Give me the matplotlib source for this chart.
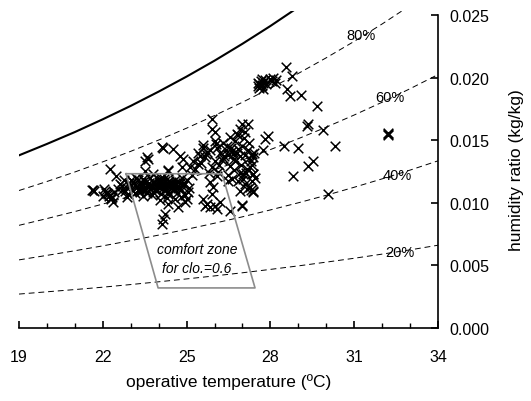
import numpy as np
import matplotlib
matplotlib.use("Agg")
import matplotlib.pyplot as plt

plt.rcParams['font.family'] = ['Liberation Sans', 'DejaVu Sans']

# operative temperature grid (deg C) for the relative humidity lines
rh_temp = [19, 20, 21, 22, 23, 24, 25, 26, 27, 28, 29, 30, 31, 32, 33, 34]

# humidity ratio (g/kg)
rh100 = [13.79, 14.70, 15.65, 16.67, 17.74, 18.88, 20.08, 21.35, 22.70, 24.12, 25.62]
rh80 = [10.98, 11.70, 12.46, 13.27, 14.11, 15.01, 15.96, 16.97, 18.03, 19.15,
        20.33, 21.58, 22.89, 24.28, 25.75]
rh60 = [8.20, 8.74, 9.30, 9.90, 10.53, 11.19, 11.90, 12.64, 13.42, 14.25,
        15.12, 16.04, 17.01, 18.03, 19.11, 20.24]
rh40 = [5.44, 5.80, 6.17, 6.56, 6.98, 7.42, 7.88, 8.37, 8.88, 9.43,
        10.00, 10.60, 11.24, 11.91, 12.61, 13.35]
rh20 = [2.71, 2.89, 3.07, 3.26, 3.47, 3.69, 3.92, 4.16, 4.41, 4.68,
        4.96, 5.26, 5.57, 5.90, 6.24, 6.61]

rh_labels = ["80%", "60%", "40%", "20%"]
rh_label_t = [31.24, 32.28, 32.53, 32.64]
rh_label_w = [23.4, 18.45, 12.2, 6.07]

# comfort zone corners (deg C, g/kg)
zone_t = [22.83, 26.27, 27.45, 23.98, 22.83]
zone_w = [12.32, 12.32, 3.20, 3.20, 12.32]

# measured points: operative temperature (deg C), humidity ratio (g/kg)
obs_t = [
    21.65, 21.70, 21.62, 22.08, 22.19, 22.33, 22.37, 22.01, 22.15, 22.26, 22.30,
    22.26, 22.47, 22.69, 22.80, 22.90, 22.87, 23.08, 23.22, 23.33, 23.44,
    23.58, 23.51, 23.62, 23.51, 23.80, 24.33, 24.12, 24.12, 24.16,
    22.62, 22.75, 22.85, 22.95, 23.05, 23.15, 23.25, 23.30, 23.40, 23.45,
    23.55, 23.60, 23.65, 23.70, 23.75, 23.80, 23.85, 23.90, 23.95, 24.00,
    24.05, 24.10, 24.15, 24.20, 24.25, 24.30, 24.35, 24.40, 24.45, 24.50,
    24.55, 24.60, 24.65, 24.70, 24.75, 24.80, 23.50, 23.70, 24.00, 24.20,
    24.40, 23.90, 24.60, 23.35, 24.10, 24.59, 24.30, 24.80, 24.05,
    22.12, 22.22, 22.40, 22.05, 22.28, 22.55, 22.70, 22.98, 23.12, 23.28,
    23.38, 23.48, 23.58, 23.68, 23.78, 23.88, 23.98, 24.08, 24.18, 24.28,
    24.38, 24.48, 24.58, 24.68, 24.78, 23.20, 23.42, 23.62, 23.82, 24.02,
    24.22, 24.42, 24.62, 23.00, 24.90, 23.15, 23.75, 24.35,
    25.91, 25.91, 26.02, 26.02, 26.55, 26.73, 24.16, 24.51, 24.76, 24.87,
    25.59, 25.73, 25.48, 25.66,
    26.10, 26.20, 26.30, 26.40, 26.50, 26.60, 26.70, 26.80, 26.90, 26.25,
    26.45, 26.65, 26.85,
    25.23, 25.41, 25.30, 25.12, 24.84, 24.33, 25.91, 26.12, 26.09, 25.84,
    26.48, 26.63, 26.84,
    24.90, 25.00, 25.05, 24.95, 25.10, 24.85, 24.33, 24.94, 25.02,
    25.59, 25.73, 25.91, 25.95, 25.84, 26.55, 24.23, 24.69,
    25.66, 26.02, 26.20, 26.09, 26.98, 26.98, 27.38, 27.16, 27.02, 27.38,
    26.98, 27.20, 26.91, 26.81, 27.09, 26.84, 26.63,
    25.50, 25.70, 25.80, 26.00, 26.15, 26.35, 26.55, 26.75, 25.60, 25.85,
    26.05, 26.30, 26.50, 26.70, 26.90, 25.40, 25.20,
    27.27, 27.38, 27.34, 27.27, 27.38, 27.02, 27.09, 26.91,
    27.00, 27.10, 27.20, 27.30, 26.95, 27.15, 27.25, 27.40, 27.35, 27.45,
    27.34, 27.38, 27.05, 27.22, 27.12, 27.30,
    27.55, 27.60, 27.65, 27.70, 27.75, 27.80, 27.60, 27.85, 27.70, 27.65,
    27.75, 27.55, 28.00, 28.10, 28.20, 28.15, 28.05,
    28.56, 28.77, 28.60, 28.70, 29.10,
    29.67, 29.31, 29.35, 29.88, 27.92, 27.81, 27.74, 28.49, 28.99, 30.31,
    32.21, 32.21, 32.20, 29.53, 29.35, 28.81, 30.06,
]
obs_w = [
    11.02, 10.95, 11.06, 10.94, 10.70, 10.46, 10.06, 10.54, 10.80, 10.62, 10.30,
    12.70, 12.14, 11.34, 10.94, 10.70, 10.46, 11.66, 11.26, 10.86, 10.54,
    13.66, 13.34, 13.50, 12.54, 12.30, 12.62, 14.46, 8.31, 8.70,
    11.50, 11.80, 11.20, 11.60, 11.00, 11.40, 11.80, 11.10, 11.50, 11.90,
    11.20, 10.80, 11.60, 12.00, 11.30, 10.90, 11.70, 11.40, 11.00, 11.80,
    11.20, 10.70, 11.50, 11.90, 11.10, 11.60, 10.90, 11.30, 11.70, 11.00,
    11.40, 11.80, 10.80, 11.20, 11.60, 11.00, 11.00, 11.40, 11.50, 11.30,
    11.60, 11.10, 11.10, 11.70, 12.00, 10.30, 10.40, 10.50, 10.20,
    10.75, 10.55, 10.85, 11.10, 10.40, 11.10, 11.05, 11.35, 11.55, 10.95,
    11.25, 11.75, 11.45, 11.15, 11.65, 11.05, 11.35, 11.85, 11.05, 11.45,
    11.75, 11.25, 11.55, 11.35, 11.15, 11.95, 11.05, 11.25, 11.55, 11.65,
    11.75, 11.45, 11.50, 11.85, 11.60, 10.75, 10.65, 10.70,
    16.69, 15.89, 15.65, 14.94, 15.26, 14.94, 14.38, 14.30, 13.74, 13.50,
    14.38, 14.06, 13.74, 13.66,
    14.40, 14.00, 13.60, 14.20, 13.80, 14.40, 13.50, 14.00, 13.70, 13.40,
    14.50, 13.90, 14.30,
    13.34, 13.10, 12.70, 12.86, 12.86, 12.54, 12.86, 12.46, 12.14, 11.66,
    11.74, 11.90, 11.74,
    11.40, 11.80, 10.90, 10.60, 11.20, 12.00, 9.90, 10.06, 10.30,
    10.30, 9.90, 10.70, 11.26, 9.66, 9.35, 9.11, 9.66,
    9.74, 9.74, 10.06, 9.50, 9.74, 9.80, 10.86, 11.10, 11.90, 12.30,
    16.29, 16.29, 15.89, 15.50, 15.65, 15.40, 14.14,
    13.20, 13.90, 12.40, 13.30, 13.00, 13.70, 12.90, 13.30, 14.60, 14.20,
    14.70, 14.80, 12.20, 12.60, 12.40, 14.00, 12.20,
    12.86, 12.30, 11.74, 11.26, 10.94, 12.30, 11.50, 10.94,
    14.50, 13.80, 14.20, 13.30, 13.00, 12.70, 13.60, 14.00, 13.00, 12.00,
    13.90, 13.66, 15.20, 14.80, 12.40, 11.00,
    19.30, 19.50, 19.70, 19.40, 19.60, 19.80, 19.20, 19.50, 19.90, 19.30,
    19.10, 19.60, 19.90, 20.00, 19.80, 19.60, 19.70,
    20.85, 20.13, 19.09, 18.53, 18.60,
    17.70, 16.10, 16.30, 15.80, 15.30, 15.10, 14.20, 14.50, 14.40, 14.50,
    15.50, 15.60, 15.45, 13.30, 12.90, 12.10, 10.70,
]

fig = plt.figure(figsize=(5.31, 4.02), dpi=100)
ax = fig.add_axes([0.0358, 0.1816, 0.789, 0.788])

g = np.array  # short alias for the g/kg -> kg/kg conversion below
ax.plot(rh_temp[:len(rh100)], g(rh100) / 1000, color="black", lw=1.5)
for w in (rh80, rh60, rh40, rh20):
    ax.plot(rh_temp[:len(w)], g(w) / 1000, color="black", lw=0.7,
            linestyle=(0, (6, 4)))
for lab, t, w in zip(rh_labels, rh_label_t, rh_label_w):
    ax.text(t, w / 1000, lab, fontsize=10.5, ha="center", va="center")

ax.scatter(obs_t, g(obs_w) / 1000, marker="x", s=48, color="black",
           linewidths=1.1, zorder=3)

# comfort zone
ax.plot(zone_t, g(zone_w) / 1000, color="#8c8c8c", lw=1.2, zorder=4)
ax.text(25.37, 0.0063, "comfort zone", fontsize=10, style="italic",
        ha="center", va="center")
ax.text(25.37, 0.0048, "for clo.=0.6", fontsize=10, style="italic",
        ha="center", va="center")

ax.set_xlim(19, 34)
ax.set_ylim(0, 0.0253)
ax.spines["top"].set_visible(False)
ax.spines["left"].set_visible(False)
ax.spines["bottom"].set_bounds(19, 34)
ax.spines["right"].set_bounds(0, 0.025)
ax.spines["bottom"].set_linewidth(1.2)
ax.spines["right"].set_linewidth(1.2)

ax.set_xticks([19, 22, 25, 28, 31, 34])
ax.set_xticks(np.arange(19, 35, 1), minor=True)
ax.set_yticks([0.0, 0.005, 0.010, 0.015, 0.020, 0.025])
ax.yaxis.set_major_formatter(plt.FuncFormatter(lambda v, _: f"{v:.3f}"))
ax.yaxis.tick_right()
ax.yaxis.set_label_position("right")
ax.tick_params(axis="x", which="major", direction="in", length=5, width=1.2,
               labelsize=11.5, pad=15)
ax.tick_params(axis="x", which="minor", direction="in", length=3.5, width=1.0)
ax.tick_params(axis="y", direction="in", length=5, width=1.2, labelsize=11.5,
               pad=8)

ax.set_xlabel("operative temperature (ºC)", fontsize=12.5, labelpad=7)
ax.set_ylabel("humidity ratio (kg/kg)", fontsize=12.5, labelpad=14)

fig.savefig("out.png", dpi=100)
